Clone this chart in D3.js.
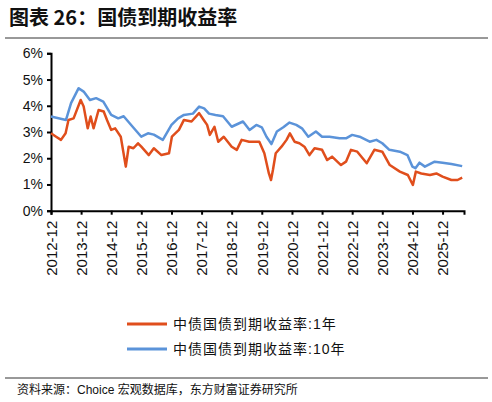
<!DOCTYPE html>
<html>
<head>
<meta charset="utf-8">
<script src="https://cdn.jsdelivr.net/npm/d3@7"></script>
<style>
  body { margin: 0; background: #fff; }
  text { font-family: "Liberation Sans", Arial, "Noto Sans CJK SC", sans-serif; }
</style>
</head>
<body>
<div id="chart"></div>
<script>
// 1Y yield (%)
var dates1y = ["2012-12-15","2013-02-15","2013-04-15","2013-06-10","2013-07-15","2013-09-15","2013-12-10","2014-01-15","2014-03-05","2014-04-10","2014-05-15","2014-07-15","2014-09-15","2014-10-25","2014-12-15","2015-02-01","2015-04-10","2015-06-10","2015-07-15","2015-09-10","2015-11-05","2015-12-15","2016-03-15","2016-05-15","2016-08-15","2016-11-15","2016-12-20","2017-03-15","2017-05-15","2017-08-15","2017-11-15","2018-01-10","2018-02-20","2018-03-25","2018-05-20","2018-07-05","2018-09-10","2018-12-15","2019-02-15","2019-04-15","2019-07-15","2019-11-15","2020-01-15","2020-03-10","2020-04-05","2020-04-28","2020-06-01","2020-08-10","2020-10-10","2020-11-20","2021-01-15","2021-03-15","2021-05-15","2021-07-15","2021-09-15","2021-12-15","2022-02-15","2022-04-15","2022-08-01","2022-10-01","2022-12-01","2023-02-15","2023-06-10","2023-09-10","2023-12-15","2024-03-15","2024-07-15","2024-10-20","2024-12-20","2025-01-25","2025-04-01","2025-07-15","2025-10-01","2025-12-15","2026-04-01","2026-06-15","2026-08-10"];
var yield1y = [2.95,2.82,2.70,2.95,3.46,3.52,4.22,3.97,3.14,3.59,3.14,3.84,3.78,3.46,3.08,3.14,2.82,1.68,2.44,2.38,2.57,2.44,2.12,2.38,2.12,2.19,2.82,3.08,3.46,3.40,3.72,3.46,3.27,2.89,3.20,2.63,2.82,2.44,2.32,2.70,2.63,2.63,2.19,1.42,1.17,1.55,2.19,2.44,2.70,2.95,2.63,2.57,2.44,2.12,2.38,2.32,1.93,2.06,1.74,1.87,2.32,2.25,1.81,2.32,2.25,1.74,1.49,1.36,0.98,1.49,1.42,1.36,1.42,1.30,1.17,1.17,1.26];

// 10Y yield (%)
var dates10y = ["2012-12-15","2013-06-15","2013-08-15","2013-11-15","2014-01-15","2014-04-01","2014-06-15","2014-09-10","2014-12-15","2015-03-10","2015-05-15","2015-09-01","2015-12-15","2016-03-05","2016-05-15","2016-09-01","2016-12-15","2017-03-05","2017-05-15","2017-09-01","2017-11-15","2018-01-15","2018-03-15","2018-06-01","2018-09-01","2018-12-15","2019-05-01","2019-07-20","2019-10-10","2019-12-15","2020-02-10","2020-04-10","2020-06-15","2020-09-01","2020-11-15","2021-02-05","2021-04-15","2021-07-01","2021-10-01","2021-12-15","2022-03-15","2022-07-15","2022-10-01","2022-12-15","2023-03-15","2023-07-15","2023-10-05","2023-12-15","2024-03-10","2024-07-15","2024-10-15","2024-12-15","2025-01-20","2025-03-10","2025-05-15","2025-09-10","2025-12-15","2026-04-01","2026-08-10"];
var yield10y = [3.59,3.46,4.10,4.67,4.54,4.22,4.29,4.16,3.65,3.52,3.60,3.20,2.82,2.95,2.90,2.70,3.27,3.52,3.65,3.70,3.97,3.90,3.70,3.65,3.60,3.20,3.40,3.08,3.27,3.18,2.82,2.54,3.02,3.18,3.36,3.27,3.14,2.82,3.02,2.82,2.82,2.76,2.76,2.89,2.82,2.63,2.70,2.57,2.32,2.25,2.12,1.68,1.62,1.83,1.68,1.87,1.83,1.78,1.70];

var yTicks = [0, 1, 2, 3, 4, 5, 6];
var xTickYears = [2012,2013,2014,2015,2016,2017,2018,2019,2020,2021,2022,2023,2024,2025];
var seriesNames = ["中债国债到期收益率:1年", "中债国债到期收益率:10年"];
var colors = ["#e04e1c", "#5b93d9"];

var width = 492, height = 402;
var parse = d3.timeParse("%Y-%m-%d");

var svg = d3.select("#chart").append("svg").attr("width", width).attr("height", height);

// title
svg.append("text").attr("x", 9).attr("y", 25).text("图表 26：国债到期收益率")
    .style("font-size", "20px").style("font-weight", "bold").attr("fill", "#111")
    .style("font-family", "'Noto Sans CJK SC', sans-serif");
svg.append("line").attr("x1", 5).attr("x2", 488).attr("y1", 38).attr("y2", 38)
    .attr("stroke", "#333").attr("stroke-width", 1);

// scales
var x = d3.scaleTime()
    .domain([parse("2012-12-15"), parse("2026-09-01")])
    .range([51, 464]);
var y = d3.scaleLinear().domain([0, 6]).range([210.7, 53.3]);

// y axis
var yAxis = svg.append("g").attr("transform", "translate(51,0)")
    .call(d3.axisLeft(y).tickValues(yTicks).tickSize(4).tickFormat(function(d) { return d + "%"; }));
yAxis.selectAll("text").style("font-size", "14px").attr("fill", "#111").attr("dx", "-1");

// x axis
var xAxis = svg.append("g").attr("transform", "translate(0,210.7)")
    .call(d3.axisBottom(x).tickValues(xTickYears.map(function(yr) { return parse(yr + "-12-15"); }))
        .tickSize(4).tickFormat(d3.timeFormat("%Y-%m")));
xAxis.selectAll("text").style("font-size", "15px").attr("fill", "#111")
    .attr("transform", "rotate(-90)").attr("text-anchor", "end")
    .attr("x", -10).attr("y", 0).attr("dy", "0.35em");
svg.selectAll(".domain, .tick line").attr("stroke", "#000").attr("stroke-width", 2);

// lines
var line = d3.line()
    .x(function(d) { return x(d[0]); })
    .y(function(d) { return y(d[1]); });
var data1 = dates1y.map(function(d, i) { return [parse(d), yield1y[i]]; });
var data10 = dates10y.map(function(d, i) { return [parse(d), yield10y[i]]; });
svg.append("path").datum(data10).attr("d", line).attr("fill", "none")
    .attr("stroke", colors[1]).attr("stroke-width", 2.5).attr("stroke-linejoin", "round");
svg.append("path").datum(data1).attr("d", line).attr("fill", "none")
    .attr("stroke", colors[0]).attr("stroke-width", 2.5).attr("stroke-linejoin", "round");

// legend
seriesNames.forEach(function(name, i) {
    var ly = 324 + i * 25;
    svg.append("line").attr("x1", 127).attr("x2", 167).attr("y1", ly).attr("y2", ly)
        .attr("stroke", colors[i]).attr("stroke-width", 3);
    svg.append("text").attr("x", 173).attr("y", ly + 5).text(name)
        .style("font-size", "14px").attr("fill", "#111").style("letter-spacing", "1px");
});

// source
svg.append("line").attr("x1", 5).attr("x2", 488).attr("y1", 378).attr("y2", 378)
    .attr("stroke", "#333").attr("stroke-width", 1);
svg.append("text").attr("x", 17).attr("y", 394).text("资料来源：Choice 宏观数据库，东方财富证券研究所")
    .style("font-size", "12px").attr("fill", "#111");
</script>
</body>
</html>
